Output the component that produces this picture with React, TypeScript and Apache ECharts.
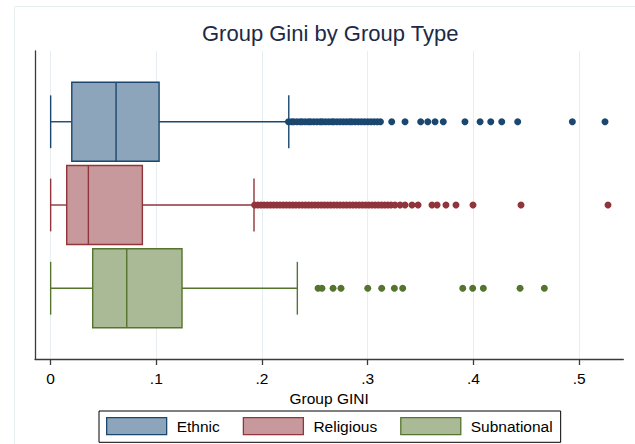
import React, { useEffect, useRef } from "react";
import * as echarts from "echarts";

const groups = ["Ethnic", "Religious", "Subnational"];
const groupPos = [1, 2, 3];
const mins = [0, 0, 0];
const q1s = [0.02, 0.0152, 0.0398];
const medians = [0.0619, 0.0357, 0.072];
const q3s = [0.1026, 0.0868, 0.1243];
const maxs = [0.2253, 0.1924, 0.2334];

const ethnicOutliers = [
  0.225, 0.228, 0.23, 0.233, 0.236, 0.238, 0.241, 0.244, 0.246, 0.249, 0.252, 0.255,
  0.257, 0.26, 0.263, 0.266, 0.268, 0.271, 0.274, 0.277, 0.28, 0.283, 0.285, 0.288,
  0.291, 0.294, 0.297, 0.3, 0.303, 0.306, 0.309, 0.312, 0.3227, 0.3353, 0.3501, 0.3568,
  0.3637, 0.3715, 0.392, 0.4063, 0.4164, 0.4268, 0.4419, 0.4936, 0.5245,
];
const religiousOutliers = [
  0.193, 0.196, 0.199, 0.202, 0.205, 0.208, 0.211, 0.214, 0.217, 0.22, 0.223, 0.226,
  0.229, 0.232, 0.235, 0.238, 0.241, 0.244, 0.247, 0.25, 0.253, 0.256, 0.259, 0.262,
  0.265, 0.268, 0.271, 0.274, 0.277, 0.28, 0.283, 0.286, 0.289, 0.292, 0.295, 0.298,
  0.301, 0.304, 0.307, 0.31, 0.313, 0.316, 0.319, 0.322, 0.3258, 0.3306, 0.3353, 0.3419,
  0.3476, 0.3608, 0.3656, 0.374, 0.3835, 0.3996, 0.445, 0.5273,
];
const subnationalOutliers = [
  0.253, 0.2567, 0.2672, 0.2747, 0.3, 0.3132, 0.3252, 0.3331, 0.3899, 0.3993, 0.4094,
  0.4441, 0.4671,
];
const outliers = [ethnicOutliers, religiousOutliers, subnationalOutliers];
const tickValues = [0, 0.1, 0.2, 0.3, 0.4, 0.5];

const lineColors = ["#1a476f", "#90353b", "#55752f"];
const fillColors = ["#8da5ba", "#c8999c", "#abba96"];
const FONT = "'Liberation Sans', Arial, Helvetica, sans-serif";
const BOX_HALF = 0.4745;
const CAP_HALF = 0.317;

export default function App() {
  const ref = useRef<HTMLDivElement>(null);
  useEffect(() => {
    document.body.style.margin = "0";
    if (!ref.current) return;
    const chart = echarts.init(ref.current, null, { renderer: "svg" });

    const boxSeries = groups.map((name, i) => ({
      type: "custom",
      name,
      silent: true,
      encode: { x: [1, 2, 3, 4, 5], y: 0 },
      data: [[groupPos[i], mins[i], q1s[i], medians[i], q3s[i], maxs[i]]],
      z: 3,
      renderItem: (_params: any, api: any) => {
        const yv = api.value(0);
        const mn = api.value(1);
        const q1 = api.value(2);
        const md = api.value(3);
        const q3 = api.value(4);
        const mx = api.value(5);
        const cy = api.coord([mn, yv])[1];
        const top = api.coord([mn, yv - BOX_HALF])[1];
        const bot = api.coord([mn, yv + BOX_HALF])[1];
        const cTop = api.coord([mn, yv - CAP_HALF])[1];
        const cBot = api.coord([mn, yv + CAP_HALF])[1];
        const xMn = api.coord([mn, yv])[0];
        const xQ1 = api.coord([q1, yv])[0];
        const xMd = api.coord([md, yv])[0];
        const xQ3 = api.coord([q3, yv])[0];
        const xMx = api.coord([mx, yv])[0];
        const ls = { stroke: lineColors[i], lineWidth: 1.4 };
        return {
          type: "group",
          children: [
            { type: "line", shape: { x1: xMn, y1: cy, x2: xQ1, y2: cy }, style: ls },
            { type: "line", shape: { x1: xQ3, y1: cy, x2: xMx, y2: cy }, style: ls },
            { type: "line", shape: { x1: xMn, y1: cTop, x2: xMn, y2: cBot }, style: ls },
            { type: "line", shape: { x1: xMx, y1: cTop, x2: xMx, y2: cBot }, style: ls },
            {
              type: "rect",
              shape: { x: xQ1, y: top, width: xQ3 - xQ1, height: bot - top },
              style: { fill: fillColors[i], stroke: lineColors[i], lineWidth: 1.4 },
            },
            { type: "line", shape: { x1: xMd, y1: top, x2: xMd, y2: bot }, style: ls },
          ],
        };
      },
    }));

    const dotSeries = groups.map((name, i) => ({
      type: "scatter",
      name: name + " outliers",
      silent: true,
      symbol: "circle",
      symbolSize: 7,
      z: 4,
      itemStyle: { color: lineColors[i], opacity: 1 },
      data: outliers[i].map((v) => [v, groupPos[i]]),
    }));

    chart.setOption({
      animation: false,
      backgroundColor: "#ffffff",
      textStyle: { fontFamily: FONT },
      title: {
        text: "Group Gini by Group Type",
        left: 202,
        top: 22,
        padding: 0,
        textStyle: { fontFamily: FONT, fontSize: 22, fontWeight: "normal", color: "#1c2a48" },
      },
      graphic: [
        {
          type: "rect",
          silent: true,
          shape: { x: 14.5, y: 6.5, width: 700, height: 500 },
          style: { fill: "none", stroke: "#e9eff1", lineWidth: 1 },
          z: -10,
        },
      ],
      legend: {
        data: groups.map((name, i) => ({
          name,
          icon: "rect",
          itemStyle: { color: fillColors[i], borderColor: lineColors[i], borderWidth: 1.3 },
        })),
        left: 99,
        top: 411,
        orient: "horizontal",
        itemWidth: 60,
        itemHeight: 17,
        itemGap: 23,
        padding: [6, 8, 7, 7],
        borderColor: "#000000",
        borderWidth: 1,
        selectedMode: false,
        textStyle: { fontFamily: FONT, fontSize: 15.5, color: "#000000", padding: [0, 0, 0, 5] },
      },
      grid: { left: 35, right: 11.7, top: 51, bottom: 85, containLabel: false },
      xAxis: {
        type: "value",
        min: -0.0148,
        max: 0.5418,
        name: "Group GINI",
        nameLocation: "middle",
        nameGap: 28,
        nameTextStyle: { fontFamily: FONT, fontSize: 15.5, color: "#000000" },
        axisLine: { show: true, onZero: false, lineStyle: { color: "#3a3a3a", width: 1.3 } },
        axisTick: { show: true, length: 6, customValues: tickValues, lineStyle: { color: "#3a3a3a", width: 1.3 } },
        axisLabel: {
          customValues: tickValues,
          margin: 11,
          fontFamily: FONT,
          fontSize: 15.5,
          color: "#000000",
          formatter: (v: number) => (Math.abs(v) < 1e-9 ? "0" : "." + Math.round(v * 10)),
        },
        splitLine: { show: true, lineStyle: { color: "#e6eef1", width: 1 } },
      },
      yAxis: {
        type: "value",
        inverse: true,
        min: 0.15,
        max: 3.85,
        axisLine: { show: true, onZero: false, lineStyle: { color: "#3a3a3a", width: 1.3 } },
        axisTick: { show: false },
        axisLabel: { show: false },
        splitLine: { show: false },
      },
      series: [...boxSeries, ...dotSeries],
    });
    return () => chart.dispose();
  }, []);
  return <div ref={ref} style={{ width: 635, height: 444 }} />;
}
